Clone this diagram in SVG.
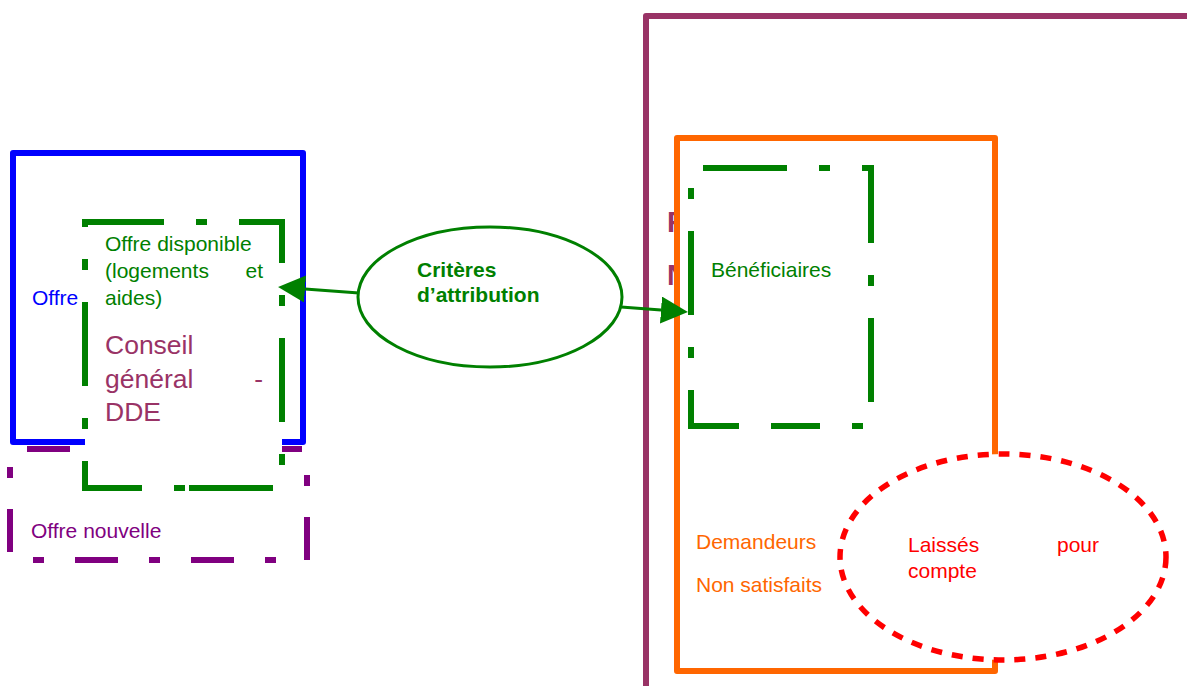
<svg xmlns="http://www.w3.org/2000/svg" width="1187" height="686" viewBox="0 0 1187 686">
<style>
text{font-family:"Liberation Sans",Arial,sans-serif;font-size:21px}
.g{fill:#008000}
.dd{stroke:#008000;stroke-width:6;stroke-dasharray:84 32 11 32}
</style>
<defs>
<marker id="ah" markerUnits="userSpaceOnUse" markerWidth="30" markerHeight="30" refX="0" refY="13.5" orient="auto">
<path d="M0,0 L27,13.5 L0,27 Z" fill="#008000"/>
</marker>
</defs>
<rect width="1187" height="686" fill="#fff"/>
<g id="public">
<rect x="646" y="16" width="600" height="700" fill="none" stroke="#993366" stroke-width="6" stroke-linejoin="round"/>
<text x="667" y="232" style="font-size:29px;font-weight:bold" fill="#993366">F</text>
<text x="667" y="285" style="font-size:29px;font-weight:bold" fill="#993366">N</text>
</g>
<g id="demandeurs">
<rect x="677" y="138" width="318" height="533" fill="#fff" stroke="#FF6600" stroke-width="6" stroke-linejoin="round"/>
<text x="696" y="549" fill="#FF6600">Demandeurs</text>
<text x="696" y="592" fill="#FF6600">Non satisfaits</text>
</g>
<g id="laisses">
<ellipse cx="1003" cy="557" rx="163" ry="103" fill="#fff" stroke="#FF0000" stroke-width="5.5" stroke-dasharray="11 10"/>
<text x="908" y="552" fill="#FF0000">Laissés</text>
<text x="1099" y="552" text-anchor="end" fill="#FF0000">pour</text>
<text x="908" y="578" fill="#FF0000">compte</text>
</g>
<g id="beneficiaires">
<path d="M781,426 H691 V168 H871 V426 H781" fill="none" class="dd" stroke-dashoffset="117"/>
<text x="711" y="277" class="g">Bénéficiaires</text>
</g>
<g id="offre">
<rect x="13" y="153" width="290" height="289" fill="none" stroke="#0000FF" stroke-width="6" stroke-linejoin="round"/>
<text x="32" y="305" fill="#0000FF">Offre</text>
</g>
<g id="offre-nouvelle">
<rect x="10" y="449" width="297" height="111" fill="none" stroke="#800080" stroke-width="6" stroke-dasharray="43 31 11 31" stroke-dashoffset="99"/>
<text x="31" y="538" fill="#800080">Offre nouvelle</text>
</g>
<g id="offre-disponible">
<path d="M185,488 H85 V222 H282 V488 H185" fill="#fff" class="dd" stroke-dashoffset="116"/>
<text x="105" y="251" class="g">Offre disponible</text>
<text x="105" y="278" class="g">(logements</text>
<text x="263" y="278" text-anchor="end" class="g">et</text>
<text x="105" y="305" class="g">aides)</text>
<text x="105" y="354" style="font-size:26.5px" fill="#993366">Conseil</text>
<text x="105" y="388" style="font-size:26.5px" fill="#993366">général</text>
<text x="263" y="388" text-anchor="end" style="font-size:26.5px" fill="#993366">-</text>
<text x="105" y="421" style="font-size:26.5px" fill="#993366">DDE</text>
</g>
<g id="criteres">
<ellipse cx="490" cy="297" rx="132" ry="70" fill="#fff" stroke="#008000" stroke-width="3"/>
<text x="417" y="277" class="g" style="font-weight:bold">Critères</text>
<text x="417" y="302" class="g" style="font-weight:bold">d’attribution</text>
</g>
<g id="connectors" fill="none" stroke="#008000" stroke-width="3">
<line x1="359" y1="293" x2="305" y2="289" marker-end="url(#ah)"/>
<line x1="621" y1="307" x2="661" y2="310" marker-end="url(#ah)"/>
</g>
</svg>
